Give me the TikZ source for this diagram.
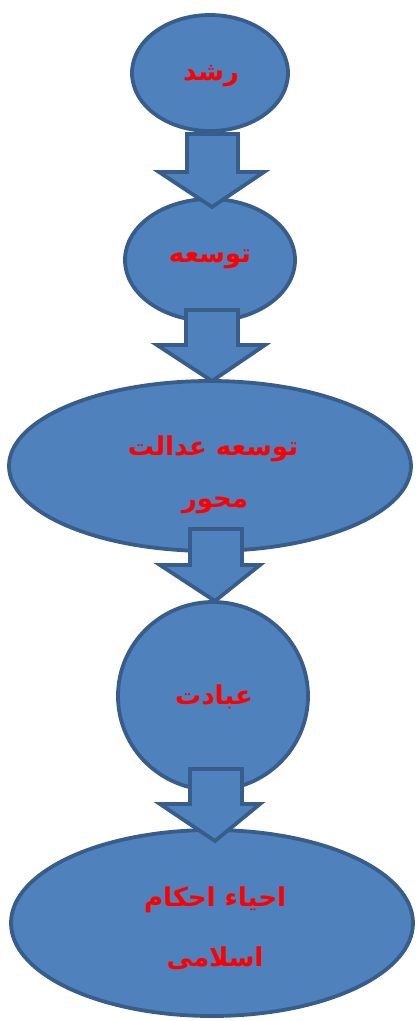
\documentclass[tikz,border=0pt]{standalone}
\usepackage{fontspec}
\usetikzlibrary{shapes.geometric}
\newfontfamily\arabicfont[Script=Arabic]{DejaVu Sans}
\TeXXeTstate=1
\definecolor{blobfill}{HTML}{4F81BD}
\definecolor{blobline}{HTML}{385D8A}
\begin{document}
\begin{tikzpicture}[x=1pt,y=-1pt,
  blob/.style={draw=blobline,fill=blobfill,line width=3.8pt,shape=ellipse,inner sep=0pt},
  arrowshape/.style={draw=blobline,fill=blobfill,line width=3.8pt,line join=miter},
  lbl/.style={text=red,font=\arabicfont\bfseries\fontsize{26}{30}\selectfont,align=center,inner sep=0pt}]
\useasboundingbox (0,0) rectangle (416,1021);
% ellipses
\node[blob,minimum width=156pt,minimum height=116pt] (e1) at (210,73) {};
\node[blob,minimum width=170pt,minimum height=122pt] (e2) at (210,260) {};
\node[blob,minimum width=402pt,minimum height=170pt] (e3) at (210,466) {};
\node[blob,minimum width=190pt,minimum height=188pt] (e4) at (213,696) {};
\node[blob,minimum width=402pt,minimum height=186pt] (e5) at (212,923) {};
% block arrows
\newcommand{\blockarrow}[8]{% shaft l, shaft r, top, head y, head l, head r, tip x, tip y
  \draw[arrowshape] (#1,#3) -- (#2,#3) -- (#2,#4) -- (#6,#4) -- (#7,#8) -- (#5,#4) -- (#1,#4) -- cycle;}
\blockarrow{187}{238}{134}{172}{159}{264}{212}{207}
\blockarrow{186}{238}{310}{345}{157}{265}{212}{381}
\blockarrow{190}{242}{529}{565}{160}{260}{215}{601}
\blockarrow{190}{242}{769}{804}{160}{260}{215}{841}
% labels
\node[lbl] (t1) at (211,76) {\beginR رشد\endR};
\node[lbl] (t2) at (210,259) {\beginR توسعه\endR};
\node[lbl] (t3a) at (213,449) {\beginR توسعه عدالت\endR};
\node[lbl] (t3b) at (215,505) {\beginR محور\endR};
\node[lbl] (t4) at (214,697) {\beginR عبادت\endR};
\node[lbl] (t5a) at (215,900) {\beginR احیاء احکام\endR};
\node[lbl] (t5b) at (215,958) {\beginR اسلامی\endR};
\end{tikzpicture}
\end{document}
